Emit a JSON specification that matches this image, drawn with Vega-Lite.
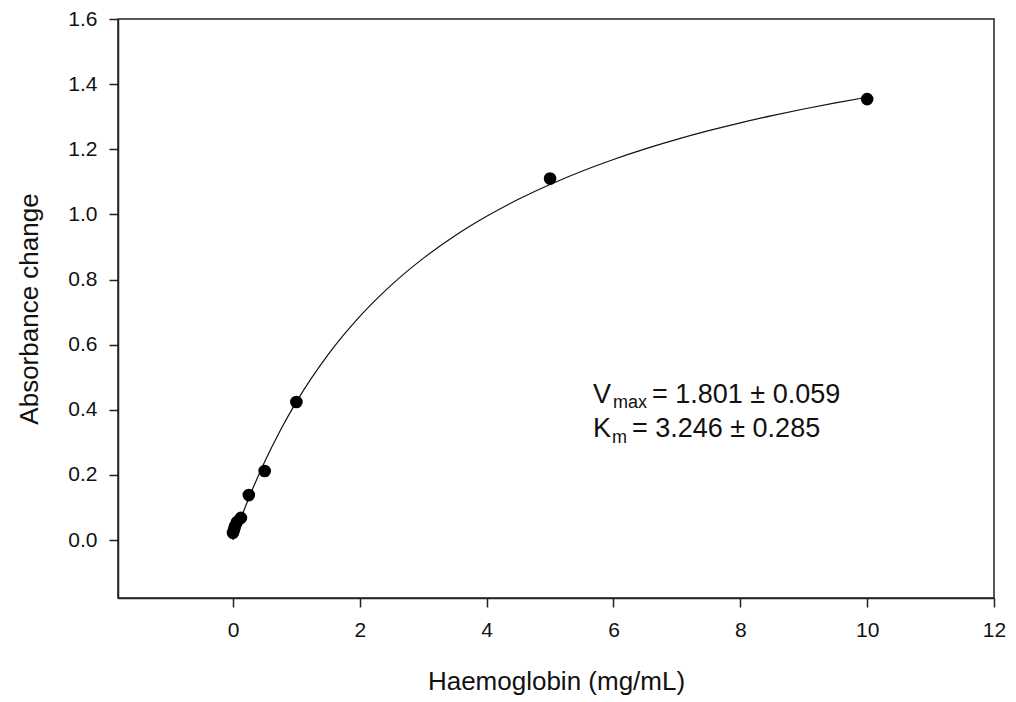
{
  "$schema": "https://vega.github.io/schema/vega-lite/v6.json",
  "autosize": "none",
  "width": 876,
  "height": 579,
  "padding": {"left": 118, "top": 19, "right": 22, "bottom": 104},
  "background": "white",
  "config": {
    "view": {"stroke": "#222", "strokeWidth": 1.5},
    "font": "Liberation Sans",
    "axis": {
      "grid": false,
      "domainColor": "#222",
      "domainWidth": 1.5,
      "tickColor": "#222",
      "tickWidth": 1.5,
      "tickSize": 9,
      "labelFont": "Liberation Sans",
      "labelFontSize": 21,
      "labelColor": "#111",
      "titleFont": "Liberation Sans",
      "titleFontSize": 26,
      "titleFontWeight": "normal",
      "titleColor": "#111"
    }
  },
  "datasets": {
    "points": [
      {"hb": 0.0, "abs": 0.022},
      {"hb": 0.016, "abs": 0.032},
      {"hb": 0.031, "abs": 0.042},
      {"hb": 0.0625, "abs": 0.055},
      {"hb": 0.125, "abs": 0.068},
      {"hb": 0.25, "abs": 0.138},
      {"hb": 0.5, "abs": 0.212},
      {"hb": 1.0, "abs": 0.424},
      {"hb": 5.0, "abs": 1.11},
      {"hb": 10.0, "abs": 1.354}
    ],
    "curve": [
      {"hb": 0.0, "abs": 0.0},
      {"hb": 0.1, "abs": 0.0538},
      {"hb": 0.25, "abs": 0.1288},
      {"hb": 0.5, "abs": 0.2404},
      {"hb": 0.75, "abs": 0.338},
      {"hb": 1.0, "abs": 0.4242},
      {"hb": 1.5, "abs": 0.5692},
      {"hb": 2.0, "abs": 0.6866},
      {"hb": 2.5, "abs": 0.7836},
      {"hb": 3.0, "abs": 0.865},
      {"hb": 3.5, "abs": 0.9344},
      {"hb": 4.0, "abs": 0.9942},
      {"hb": 4.5, "abs": 1.0463},
      {"hb": 5.0, "abs": 1.092},
      {"hb": 5.5, "abs": 1.1326},
      {"hb": 6.0, "abs": 1.1687},
      {"hb": 6.5, "abs": 1.2012},
      {"hb": 7.0, "abs": 1.2304},
      {"hb": 7.5, "abs": 1.257},
      {"hb": 8.0, "abs": 1.2812},
      {"hb": 8.5, "abs": 1.3033},
      {"hb": 9.0, "abs": 1.3236},
      {"hb": 9.5, "abs": 1.3424},
      {"hb": 10.0, "abs": 1.3597}
    ],
    "mainText": [
      {"hb": 5.676, "abs": 0.4208, "label": "V"},
      {"hb": 6.607, "abs": 0.4208, "label": "= 1.801 ± 0.059"},
      {"hb": 5.676, "abs": 0.3163, "label": "K"},
      {"hb": 6.291, "abs": 0.3163, "label": "= 3.246 ± 0.285"}
    ],
    "subText": [
      {"hb": 5.992, "abs": 0.4054, "label": "max"},
      {"hb": 5.976, "abs": 0.2979, "label": "m"}
    ]
  },
  "encoding": {
    "x": {
      "field": "hb", "type": "quantitative",
      "scale": {"domain": [-1.813, 12], "nice": false, "zero": false},
      "axis": {
        "title": "Haemoglobin (mg/mL)",
        "values": [0, 2, 4, 6, 8, 10, 12],
        "labelPadding": 12,
        "titlePadding": 28,
        "labelFlush": false
      }
    },
    "y": {
      "field": "abs", "type": "quantitative",
      "scale": {"domain": [-0.178, 1.6], "nice": false, "zero": false},
      "axis": {
        "title": "Absorbance change",
        "values": [0, 0.2, 0.4, 0.6, 0.8, 1.0, 1.2, 1.4, 1.6],
        "format": ".1f",
        "labelPadding": 12,
        "titlePadding": 25,
        "labelFlush": false
      }
    }
  },
  "layer": [
    {
      "data": {"name": "curve"},
      "mark": {"type": "line", "color": "#111", "strokeWidth": 1.2, "interpolate": "monotone"}
    },
    {
      "data": {"name": "points"},
      "mark": {"type": "circle", "color": "black", "opacity": 1, "size": 160}
    },
    {
      "data": {"name": "mainText"},
      "mark": {"type": "text", "align": "left", "baseline": "alphabetic", "fontSize": 27, "color": "#111", "font": "Liberation Sans"},
      "encoding": {"text": {"field": "label"}}
    },
    {
      "data": {"name": "subText"},
      "mark": {"type": "text", "align": "left", "baseline": "alphabetic", "fontSize": 18, "color": "#111", "font": "Liberation Sans"},
      "encoding": {"text": {"field": "label"}}
    }
  ]
}
